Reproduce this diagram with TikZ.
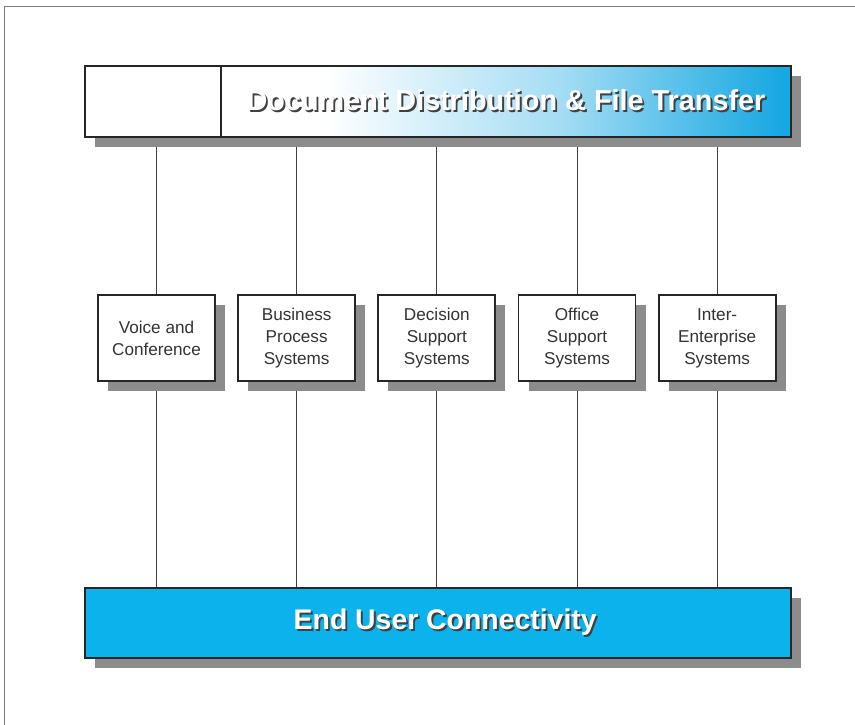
\documentclass[tikz,border=0pt]{standalone}
\usepackage{fontspec}
\setmainfont{Liberation Sans}
\usetikzlibrary{positioning, shadows, backgrounds}
\definecolor{barblue}{RGB}{12,178,236}
\definecolor{fadeblue}{RGB}{24,168,226}
\definecolor{framegray}{RGB}{125,125,125}
\pgfdeclarehorizontalshading{docfade}{100bp}{color(0bp)=(white); color(34bp)=(white); color(55bp)=(fadeblue!40); color(74bp)=(fadeblue); color(100bp)=(fadeblue)}
\newcommand{\embossed}[1]{\makebox[0pt][l]{\hspace{1.3pt}\raisebox{-1.3pt}{\color{black!75}#1}}\textcolor{white}{#1}}

\begin{document}
\begin{tikzpicture}[
				bar/.style={draw=black!85, line width=1.4pt, minimum height=1.775cm, inner sep=0pt,
					drop shadow={shadow xshift=0.25cm, shadow yshift=-0.25cm, fill=black!45, opacity=1}},
				system/.style={draw=black!85, line width=1.4pt, fill=white, align=center, inner sep=0pt,
					minimum width=2.925cm, minimum height=2.15cm, text=black!80,
					font=\fontsize{12.2}{15.6}\selectfont,
					drop shadow={shadow xshift=0.25cm, shadow yshift=-0.25cm, fill=black!45, opacity=1}},
				link/.style={draw=black!75, line width=0.6pt}]
				\useasboundingbox (0,0) rectangle (21.375,18.125);
				% page frame
				\draw[framegray, line width=0.7pt] (0.1,0) -- (0.1,17.95) -- (21.375,17.95);
				% top bar nodes
				\node[bar, fill=white, minimum width=3.4cm] (blank) at (3.825,15.5875) {};
				\node[bar, shading=docfade, minimum width=14.25cm, anchor=west, xshift=-1.4pt,
					font=\fontsize{20.5}{24}\selectfont\bfseries] (docbar) at (blank.east)
					{\embossed{Document Distribution \& File Transfer}\hspace{0.4cm}};
				% system nodes
				\node[system] (voice) at (3.9125,9.675) {Voice and\\Conference};
				\node[system, right=0.53cm of voice] (business) {Business\\Process\\Systems};
				\node[system, right=0.53cm of business] (decision) {Decision\\Support\\Systems};
				\node[system, right=0.53cm of decision] (office) {Office\\Support\\Systems};
				\node[system, right=0.53cm of office] (inter) {Inter-\\Enterprise\\Systems};
				% bottom bar node
				\node[bar, fill=barblue, minimum width=17.65cm, minimum height=1.75cm,
					font=\fontsize{20.2}{24}\selectfont\bfseries] (enduser) at (10.95,2.55)
					{\hspace{0.36cm}\embossed{End User Connectivity}};
				\begin{pgfonlayer}{background}
				% links to the top bar
				\draw[link] (voice.north) -- (voice.north |- blank.south);
				\draw[link] (business.north) -- (business.north |- docbar.south);
				\draw[link] (decision.north) -- (decision.north |- docbar.south);
				\draw[link] (office.north) -- (office.north |- docbar.south);
				\draw[link] (inter.north) -- (inter.north |- docbar.south);
				% links to the bottom bar
				\draw[link] (voice.south) -- (voice.south |- enduser.north);
				\draw[link] (business.south) -- (business.south |- enduser.north);
				\draw[link] (decision.south) -- (decision.south |- enduser.north);
				\draw[link] (office.south) -- (office.south |- enduser.north);
				\draw[link] (inter.south) -- (inter.south |- enduser.north);
				\end{pgfonlayer}
\end{tikzpicture}
\end{document}
